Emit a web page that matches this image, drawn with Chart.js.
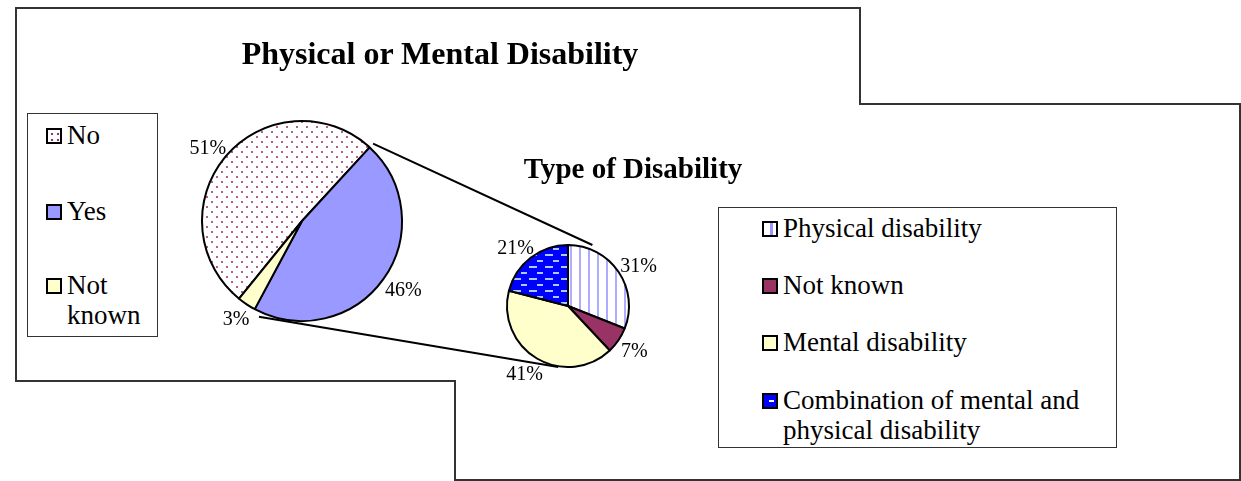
<!DOCTYPE html>
<html>
<head>
<meta charset="utf-8">
<script src="https://cdn.jsdelivr.net/npm/chart.js@4.4.1/dist/chart.umd.min.js"></script>
<style>
  body { margin: 0; background: #fff; }
  #wrap { position: relative; width: 1241px; height: 481px; overflow: hidden;
          font-family: "Liberation Serif", "Times New Roman", serif; color: #000; }
  #wrap canvas, #wrap svg { position: absolute; left: 0; top: 0; }
  .titulo { position: absolute; white-space: nowrap; font-weight: bold; text-align: center; }
  .caixa { position: absolute; border: 1px solid #333; background: #fff; box-sizing: border-box; }
  .item { position: absolute; line-height: 30px; }
  .quad { position: absolute; width: 12px; height: 12px; border: 2px solid #000; }
</style>
</head>
<body>
<div id="wrap">
  <svg width="1241" height="481"><path d="M16 8H860V104H1240V480H455V381H16Z" fill="none" stroke="#333" stroke-width="2"/></svg>
  <canvas id="pizza-principal" width="1241" height="481"></canvas>
  <canvas id="pizza-tipo" width="1241" height="481"></canvas>
  <div class="titulo" id="titulo1" style="left:240px;top:37px;width:400px;font-size:32px;line-height:32px;"></div>
  <div class="titulo" id="titulo2" style="left:513px;top:154px;width:240px;font-size:29px;line-height:29px;"></div>
  <div class="caixa" id="legenda1" style="left:27px;top:113px;width:131px;height:224px;font-size:27px;"></div>
  <div class="caixa" id="legenda2" style="left:718px;top:207px;width:399px;height:241px;font-size:27px;"></div>
</div>

<script>
// ── Dados ──
const TITULO_PRINCIPAL = "Physical or Mental Disability";
const TITULO_TIPO      = "Type of Disability";

const rotulosPrincipal = ["No", "Yes", "Not known"];
const valoresPrincipal = [51, 46, 3];

const rotulosTipo = ["Physical disability", "Not known", "Mental disability",
                     "Combination of mental and physical disability"];
const valoresTipo = [31, 7, 41, 21];

// ── Padrões de preenchimento (estilo Excel) ──
function criarPadrao(w, h, desenhar) {
  const c = document.createElement("canvas");
  c.width = w; c.height = h;
  const g = c.getContext("2d");
  desenhar(g);
  return g.createPattern(c, "repeat");
}

const ctxBase = document.getElementById("pizza-principal").getContext("2d");

const padraoPontos = criarPadrao(10, 10, g => {
  g.fillStyle = "#fff"; g.fillRect(0, 0, 10, 10);
  g.fillStyle = "#b0628f";
  g.fillRect(1, 1, 2, 2);
  g.fillRect(6, 6, 2, 2);
});

const padraoListras = criarPadrao(9, 4, g => {
  g.fillStyle = "#fff"; g.fillRect(0, 0, 9, 4);
  g.fillStyle = "#adadff"; g.fillRect(3, 0, 2, 4);
});

const padraoTracos = criarPadrao(16, 12, g => {
  g.fillStyle = "#0000ff"; g.fillRect(0, 0, 16, 12);
  g.fillStyle = "#a8ccff";
  g.fillRect(1, 2, 8, 2);
  g.fillRect(9, 8, 6, 2);
});

const CORES_PRINCIPAL = [padraoPontos, "#9999ff", "#ffffcc"];
const CORES_TIPO      = [padraoListras, "#993366", "#ffffcc", padraoTracos];

// ── Rótulos de porcentagem fora das fatias ──
const pluginPorcentagem = {
  id: "porcentagem",
  afterDatasetsDraw(chart) {
    const ctx = chart.ctx;
    const meta = chart.getDatasetMeta(0);
    const valores = chart.data.datasets[0].data;
    ctx.save();
    ctx.font = "20px 'Liberation Serif', 'Times New Roman', serif";
    ctx.fillStyle = "#000";
    ctx.textAlign = "center";
    ctx.textBaseline = "middle";
    meta.data.forEach((arco, i) => {
      const meio = (arco.startAngle + arco.endAngle) / 2;
      const texto = valores[i] + "%";
      const w = ctx.measureText(texto).width;
      const h = 18;
      const r = arco.outerRadius + 6;
      const x = arco.x + Math.cos(meio) * (r + w / 2);
      const y = arco.y + Math.sin(meio) * (r + h / 2) + 3;
      ctx.fillText(texto, x, y);
    });
    ctx.restore();
  }
};

// ── Gráfico principal ──
const graficoPrincipal = new Chart(ctxBase, {
  type: "pie",
  data: {
    labels: rotulosPrincipal,
    datasets: [{
      data: valoresPrincipal,
      backgroundColor: CORES_PRINCIPAL,
      borderColor: "#000",
      borderWidth: 2,
    }]
  },
  options: {
    responsive: false,
    animation: false,
    rotation: 219,
    layout: { padding: { left: 201, top: 120, right: 838, bottom: 159 } },
    plugins: { legend: { display: false }, tooltip: { enabled: false } }
  },
  plugins: [pluginPorcentagem]
});

// ── Linhas que ligam "Yes" ao segundo gráfico ──
const pluginLigacao = {
  id: "ligacao",
  beforeDatasetsDraw(chart) {
    const arcoYes = graficoPrincipal.getDatasetMeta(0).data[1];
    const alvo = chart.getDatasetMeta(0).data[0];
    if (!arcoYes || !alvo) return;
    const R = arcoYes.outerRadius + 5;
    const r2 = alvo.outerRadius;
    const ctx = chart.ctx;
    ctx.save();
    ctx.strokeStyle = "#000";
    ctx.lineWidth = 2;
    ctx.beginPath();
    ctx.moveTo(arcoYes.x + Math.cos(arcoYes.startAngle) * R, arcoYes.y + Math.sin(arcoYes.startAngle) * R);
    ctx.lineTo(alvo.x + 0.4 * r2, alvo.y - r2);
    const a2 = arcoYes.endAngle - 0.07;
    ctx.moveTo(arcoYes.x + Math.cos(a2) * R, arcoYes.y + Math.sin(a2) * R);
    ctx.lineTo(alvo.x - 0.16 * r2, alvo.y + r2);
    ctx.stroke();
    ctx.restore();
  }
};

// ── Gráfico do tipo de deficiência ──
new Chart(document.getElementById("pizza-tipo").getContext("2d"), {
  type: "pie",
  data: {
    labels: rotulosTipo,
    datasets: [{
      data: valoresTipo,
      backgroundColor: CORES_TIPO,
      borderColor: "#000",
      borderWidth: 2,
    }]
  },
  options: {
    responsive: false,
    animation: false,
    rotation: 0,
    layout: { padding: { left: 506, top: 244, right: 611, bottom: 113 } },
    plugins: { legend: { display: false }, tooltip: { enabled: false } }
  },
  plugins: [pluginPorcentagem, pluginLigacao]
});

// ── Títulos e legendas (HTML) ──
document.getElementById("titulo1").textContent = TITULO_PRINCIPAL;
document.getElementById("titulo2").textContent = TITULO_TIPO;

const FUNDO_LEGENDA1 = [
  "radial-gradient(circle, #993366 1px, transparent 1.6px) 1px 1px / 6px 6px, #fff",
  "#9999ff",
  "#ffffcc"
];
const FUNDO_LEGENDA2 = [
  "linear-gradient(90deg, #fff 6px, #9999ff 6px, #9999ff 9px, #fff 9px)",
  "#993366",
  "#ffffcc",
  "linear-gradient(#0000ff 5px, transparent 5px, transparent 7px, #0000ff 7px) 0 0 / 100% 100%, linear-gradient(90deg, #0000ff 5px, #fff 5px, #fff 10px, #0000ff 10px)"
];

function montarLegenda(id, rotulos, fundos, topos, esq, largura) {
  const caixa = document.getElementById(id);
  rotulos.forEach((rot, i) => {
    const q = document.createElement("div");
    q.className = "quad";
    q.style.left = esq + "px";
    q.style.top = (topos[i] + 8) + "px";
    q.style.background = fundos[i];
    caixa.appendChild(q);
    const t = document.createElement("div");
    t.className = "item";
    t.style.left = (esq + 21) + "px";
    t.style.top = topos[i] + "px";
    t.style.width = largura + "px";
    t.textContent = rot;
    caixa.appendChild(t);
  });
}

// topos relativos à caixa de cada legenda
montarLegenda("legenda1", rotulosPrincipal, FUNDO_LEGENDA1, [6, 82, 156], 18, 80);
montarLegenda("legenda2", rotulosTipo, FUNDO_LEGENDA2, [5, 62, 119, 177], 43, 320);
</script>
</body>
</html>
